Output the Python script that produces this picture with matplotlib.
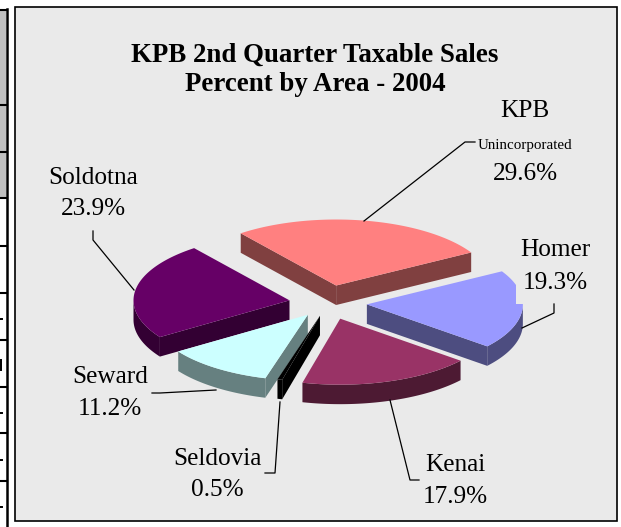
import numpy as np
import matplotlib
matplotlib.use('Agg')
import matplotlib.pyplot as plt
from matplotlib.patches import Polygon, Rectangle

# ラベルの値
areas = ["KPB", "Homer", "Kenai", "Seldovia", "Seward", "Soldotna"]
label_pct = ["29.6%", "19.3%", "17.9%", "0.5%", "11.2%", "23.9%"]
# 描かれている扇の大きさ (KPBだけラベルより小さく描かれている)
slice_pct = [27.1, 19.3, 17.9, 0.5, 11.2, 23.9]
explode = [0.27, 0.25, 0.25, 0.2, 0.22, 0.25]

top_colors = ["#FF8080", "#9999FF", "#993366", "#000000", "#CCFFFF", "#660066"]
wall_colors = ["#804040", "#4D4D80", "#4D1A33", "#000000", "#668080", "#330033"]

bg = "#EAEAEA"
cx, cy = 328, 303
rx, ry = 156, 66
depth = 19.5
start_angle = 127.7

plt.rcParams['font.family'] = ['Liberation Serif', 'DejaVu Serif']

fig = plt.figure(figsize=(6.21, 5.27), dpi=100)
ax = fig.add_axes([0, 0, 1, 1])
ax.set_xlim(0, 621)
ax.set_ylim(527, 0)
ax.axis('off')

# 左の切れた表
ax.add_patch(Rectangle((0, 10), 6, 188, fc="#C0C0C0", ec="none"))
ax.plot([7, 7], [9, 527], color="black", lw=1.8)
for y in [10, 105, 152, 198, 246, 293, 340, 387, 433, 481]:
    ax.plot([0, 7], [y, y], color="black", lw=1.5)
for y in [319, 413, 460, 507]:
    ax.plot([0, 1.5], [y, y], color="black", lw=1.4)
ax.plot([1, 1], [360, 370], color="black", lw=1.4)

ax.add_patch(Rectangle((15, 7), 602, 514, fc=bg, ec="black", lw=1.2))


def ell(t, ox, oy, dz=0):
    r = np.radians(t)
    return np.column_stack([ox + rx * np.cos(r), oy - ry * np.sin(r) + dz])


# 扇の角度を計算して時計回りに並べる
fracs = np.array(slice_pct) / sum(slice_pct) * 360
ends = start_angle - np.cumsum(fracs)
starts = ends + fracs

order = [0, 5, 1, 4, 3, 2]
for i in order:
    t1, t2 = starts[i], ends[i]
    mid = np.radians((t1 + t2) / 2)
    ox = cx + explode[i] * rx * np.cos(mid)
    oy = cy - explode[i] * ry * np.sin(mid)
    apex = np.array([[ox, oy]])
    ts = np.linspace(t1, t2, 80)

    # 外周の壁 (手前側だけ)
    front = ts[np.sin(np.radians(ts)) <= 0]
    if len(front) > 1:
        upper = ell(front, ox, oy)
        lower = ell(front, ox, oy, depth)
        ax.add_patch(Polygon(np.vstack([upper, lower[::-1]]), fc=wall_colors[i], ec="none"))

    # 切り口の壁
    for t, visible in [(t1, np.cos(np.radians(t1)) < 0), (t2, np.cos(np.radians(t2)) > 0)]:
        if visible:
            p = ell([t], ox, oy)
            wall = np.vstack([apex, p, p + [0, depth], apex + [0, depth]])
            ax.add_patch(Polygon(wall, fc=wall_colors[i], ec="none"))

    # 上面
    ax.add_patch(Polygon(np.vstack([apex, ell(ts, ox, oy)]), fc=top_colors[i], ec="none"))

# Homerのラベル枠が扇を隠している部分
ax.add_patch(Rectangle((516, 232), 78, 72, fc=bg, ec="none"))

# 引き出し線
leaders = [
    ([364, 465, 475], [221, 142, 142]),
    ([522, 554, 554], [328, 313, 304]),
    ([390, 410, 419], [400, 480, 480]),
    ([280, 275, 265], [402, 473, 473]),
    ([216, 160, 152], [390, 393, 393]),
    ([134, 93, 93], [290, 240, 231]),
]
for xs, ys in leaders:
    ax.plot(xs, ys, color="black", lw=0.9)

ax.text(315, 70, "KPB 2nd Quarter Taxable Sales\nPercent by Area - 2004", ha='center', va='center',
        fontsize=19.4, fontweight='bold', linespacing=1.2)

fs = 18.2
ax.text(525, 111, areas[0], ha='center', va='center', fontsize=fs)
ax.text(525, 146, "Unincorporated", ha='center', va='center', fontsize=10.8)
ax.text(525, 174, label_pct[0], ha='center', va='center', fontsize=fs)
label_pos = [None, (555, 250, 283), (455, 465, 497), (217, 459, 490), (110, 377, 409), (93, 178, 209)]
for i in range(1, 6):
    x, y1, y2 = label_pos[i]
    ax.text(x, y1, areas[i], ha='center', va='center', fontsize=fs)
    ax.text(x, y2, label_pct[i], ha='center', va='center', fontsize=fs)

fig.savefig("out.png", dpi=100)
